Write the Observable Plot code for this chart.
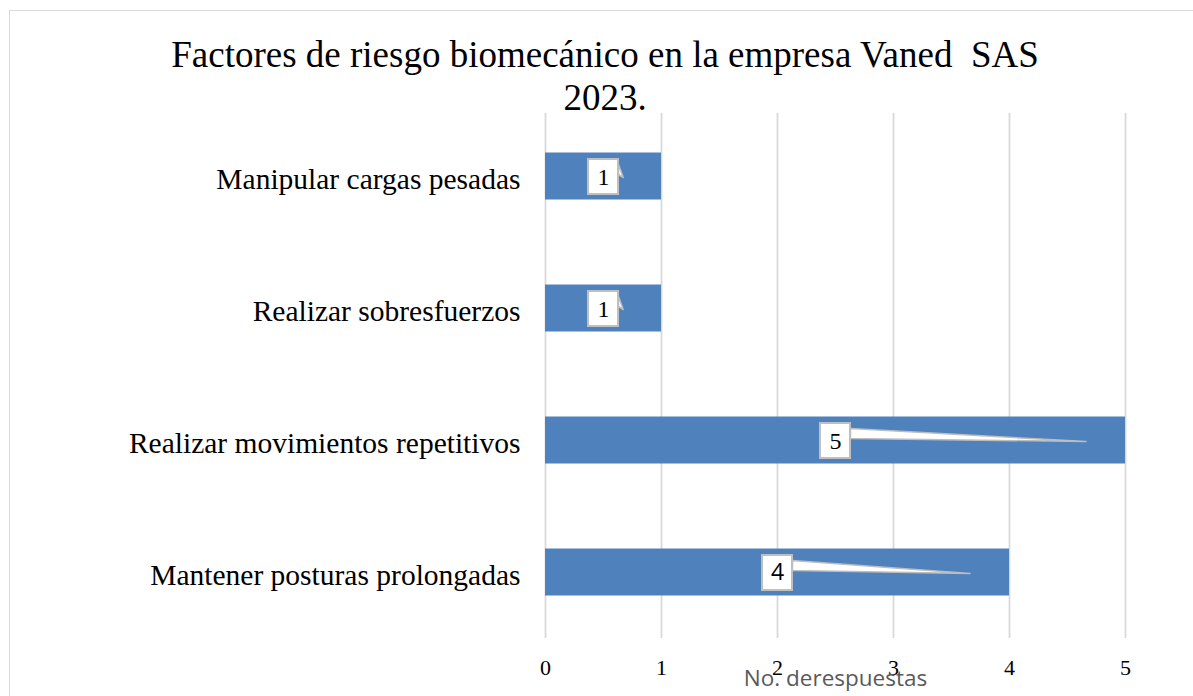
<!DOCTYPE html>
<html>
<head>
<meta charset="utf-8">
<script src="https://cdn.jsdelivr.net/npm/d3@7"></script>
<script src="https://cdn.jsdelivr.net/npm/@observablehq/plot@0.6"></script>
<style>
  html, body { margin: 0; padding: 0; background: #fff; width: 1193px; height: 696px; overflow: hidden; }
  #frame { position: absolute; left: 9px; top: 10px; width: 1300px; height: 800px; border: 1.5px solid #d9d9d9; box-sizing: border-box; }
  #title { position: absolute; left: 0; top: 33px; width: 1210px; text-align: center;
           font-family: "Liberation Serif", "Times New Roman", serif; font-size: 37px; line-height: 43px; color: #000; white-space: pre; }
  #chart { position: absolute; left: 0; top: 0; }
</style>
</head>
<body>
<div id="frame"></div>
<div id="chart"></div>
<div id="title">Factores de riesgo biomecánico en la empresa Vaned  SAS
2023.</div>
<script>
const categories = [
  "Manipular cargas pesadas",
  "Realizar sobresfuerzos",
  "Realizar movimientos repetitivos",
  "Mantener posturas prolongadas"
];
const values = [1, 1, 5, 4];
// x position (in data units) of each data-label callout's pointer tip
const calloutTips = [0.67, 0.67, 4.66, 3.66];
const xTicks = [0, 1, 2, 3, 4, 5];
const xLabel = "No. derespuestas";

const W = 1193, H = 696;
const mL = 545, mR = 68, mT = 110, mB = 58;
const xDomain = [0, 5], yDomain = [-0.5, 3.5];
const px = (xDomain[1] - xDomain[0]) / (W - mL - mR);   // data units per pixel (x)
const py = (yDomain[1] - yDomain[0]) / (H - mT - mB);   // data units per pixel (y)

const data = categories.map((c, i) => ({i, c, v: values[i], tip: calloutTips[i]}));

const wedges = data.flatMap(d => {
  const bx = d.v / 2 + 15 * px;
  return [
    {i: d.i, x: bx, y: d.i - 12 * py},
    {i: d.i, x: d.tip, y: d.i + 1 * py},
    {i: d.i, x: bx, y: d.i - 2 * py}
  ];
});

const serif = "'Liberation Serif', 'Times New Roman', serif";
const sans = "'Open Sans', 'Noto Sans', sans-serif";

const chart = Plot.plot({
  width: W, height: H,
  marginLeft: mL, marginRight: mR, marginTop: mT, marginBottom: mB,
  x: {domain: xDomain},
  y: {domain: yDomain, reverse: true},
  style: {background: "transparent"},
  marks: [
    Plot.ruleX(xTicks, {y1: -0.5 + 3 * py, y2: 3.5, stroke: "#d9d9d9", strokeWidth: 1.8}),
    Plot.rectX(data, {x1: 0, x2: "v", y1: d => d.i - 23.5 * py, y2: d => d.i + 23.5 * py, fill: "#4f81bd"}),
    Plot.line(wedges, {x: "x", y: "y", z: "i", curve: "linear-closed", fill: "#ffffff", stroke: "#bdbdbd", strokeWidth: 1.5}),
    Plot.rect(data, {
      x1: d => d.v / 2 - 15 * px, x2: d => d.v / 2 + 15 * px,
      y1: d => d.i - 17 * py, y2: d => d.i + 18 * py,
      fill: "#ffffff", stroke: "#bfbfbf", strokeWidth: 2
    }),
    Plot.text(data.filter(d => d.i !== 3), {x: d => d.v / 2, y: d => d.i + 0.5 * py, text: d => String(d.v),
      fontSize: 24, fontFamily: serif, fill: "#000"}),
    Plot.text(data.filter(d => d.i === 3), {x: d => d.v / 2, y: d => d.i + 0.5 * py, text: d => String(d.v),
      fontSize: 23, fontFamily: sans, fill: "#000"}),
    Plot.axisY({ticks: [0, 1, 2, 3], tickFormat: i => categories[i], tickSize: 0, tickPadding: 25,
      fontSize: 29.5, fontFamily: serif, fill: "#000", dy: 3, label: null}),
    Plot.axisX({ticks: xTicks, tickFormat: d => String(d), tickSize: 0, tickPadding: 21,
      fontSize: 22, fontFamily: serif, fill: "#000", label: null}),
    Plot.text([xLabel], {frameAnchor: "bottom", dy: 47, text: d => d, fontSize: 22.5, fontFamily: sans, fill: "#595959"})
  ]
});
document.getElementById("chart").appendChild(chart);
</script>
</body>
</html>
